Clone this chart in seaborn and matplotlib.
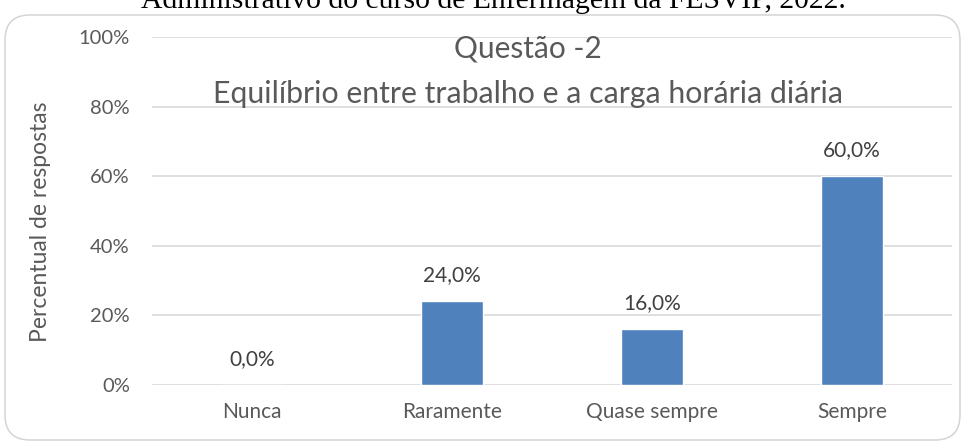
import matplotlib
matplotlib.use("Agg")
import matplotlib.pyplot as plt
from matplotlib.patches import FancyBboxPatch
from matplotlib.ticker import FuncFormatter
import seaborn as sns
import pandas as pd

categorias = ["Nunca", "Raramente", "Quase sempre", "Sempre"]
percentuais = [0.0, 24.0, 16.0, 60.0]
rotulos_y = [0, 20, 40, 60, 80, 100]

sns.set_theme(style="white")
plt.rcParams["font.family"] = ["Lato", "DejaVu Sans"]

W, H = 964, 442
fig = plt.figure(figsize=(W / 100, H / 100), dpi=100)

# rounded frame of the chart area (drawn in inches so the corners stay circular)
frame = FancyBboxPatch((0.05, 0.02), 9.55, 4.25,
                       boxstyle="round,pad=0,rounding_size=0.25",
                       transform=fig.dpi_scale_trans, facecolor="none",
                       edgecolor="#d4d4d4", linewidth=1.1, zorder=-1)
fig.patches.append(frame)

# caption line above the chart (its upper part falls outside the image)
fig.text(493 / W, 1 - 8 / H, "Administrativo do curso de Enfermagem da FESVIP, 2022.",
         ha="center", va="baseline", family="Liberation Serif", fontsize=21.3, color="black")

ax = fig.add_axes([152 / W, 1 - 385 / H, 800 / W, 348 / H])
ax.set_facecolor("none")

df = pd.DataFrame({"categoria": categorias, "valor": percentuais})
sns.barplot(data=df, x="categoria", y="valor", color="#4f81bd", width=0.31,
            saturation=1, ax=ax, zorder=3)

ax.set_ylim(0, 100)
ax.set_yticks(rotulos_y)
ax.yaxis.set_major_formatter(FuncFormatter(lambda v, p: f"{int(v)}%"))
ax.grid(axis="y", color="#d9d9d9", linewidth=1.2, zorder=0)
ax.set_axisbelow(True)
for s in ax.spines.values():
    s.set_visible(False)
ax.tick_params(axis="both", length=0, colors="#595959")
ax.tick_params(axis="y", pad=16, labelsize=14.5)
ax.tick_params(axis="x", pad=12, labelsize=15)
ax.set_xlabel("")
ax.set_ylabel("Percentual de respostas", fontsize=16.5, color="#595959")
ax.yaxis.set_label_coords((51 - 152) / 800, (385 - 222) / 348)
ax.set_xlim(-0.5, 3.5)

for i, v in enumerate(percentuais):
    ax.text(i, v + 7.5, f"{v:.1f}%".replace(".", ","), ha="center", va="center",
            fontsize=15, color="#404040")

# two-line chart title
cx = (528 - 152) / 800
ax.text(cx, (385 - 58) / 348, "Questão -2", transform=ax.transAxes,
        ha="center", va="baseline", fontsize=21.5, color="#595959")
ax.text(cx, (385 - 103) / 348, "Equilíbrio entre trabalho e a carga horária diária",
        transform=ax.transAxes, ha="center", va="baseline", fontsize=21.8,
        color="#595959")

fig.savefig("out.png", dpi=100)
